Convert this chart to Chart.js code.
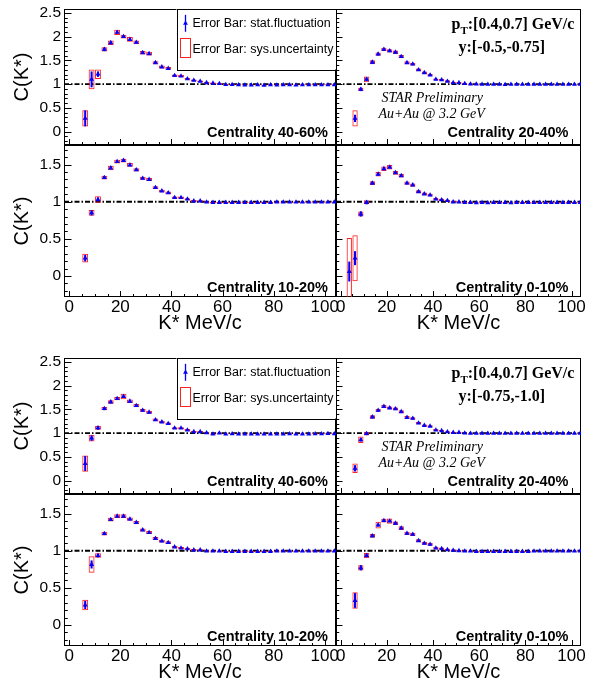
<!DOCTYPE html>
<html><head><meta charset="utf-8">
<script src="https://cdn.jsdelivr.net/npm/chart.js@4.4.0/dist/chart.umd.min.js"></script>
<style>
html,body{margin:0;padding:0;background:#fff;overflow:hidden;width:593px;height:683px;position:relative;}
canvas{position:absolute;}
</style></head><body>
<script>
// ---------- data ----------
const kstar = [6.25,8.75,11.25,13.75,16.25,18.75,21.25,23.75,26.25,28.75,31.25,33.75,36.25,38.75,41.25,43.75,46.25,48.75,51.25,53.75,56.25,58.75,61.25,63.75,66.25,68.75,71.25,73.75,76.25,78.75,81.25,83.75,86.25,88.75,91.25,93.75,96.25,98.75,101.25,103.75];
const kstarC = [3.75,6.25,8.75,11.25,13.75,16.25,18.75,21.25,23.75,26.25,28.75,31.25,33.75,36.25,38.75,41.25,43.75,46.25,48.75,51.25,53.75,56.25,58.75,61.25,63.75,66.25,68.75,71.25,73.75,76.25,78.75,81.25,83.75,86.25,88.75,91.25,93.75,96.25,98.75,101.25,103.75];

const xTicks = [0,20,40,60,80,100];
const yTicksTop = [0,0.5,1,1.5,2,2.5];
const yTicksBot = [0,0.5,1,1.5];
const refLevel = 1;

// y:[-0.5,-0.75]
const c1_4060 = [0.28,1.10,1.21,1.73,1.87,2.09,2.00,1.94,1.88,1.66,1.64,1.45,1.36,1.33,1.18,1.17,1.11,1.08,1.06,1.03,1.02,1.01,0.99,0.99,0.985,0.98,0.98,0.985,0.975,0.985,0.98,0.985,0.985,0.98,0.985,0.985,0.985,0.985,0.985,0.985];
const s1_4060 = [0.16,0.16,0.05,0.03,0.025,0.025,0.02,0.02,0.02,0.02,0.02,0.015,0.015,0.015,0.012,0.012,0.01,0.01,0.01,0.01,0.01,0.008,0.008,0.008,0.008,0.008,0.008,0.008,0.008,0.008,0.008,0.008,0.008,0.008,0.008,0.008,0.008,0.008,0.008,0.008];
const e1_4060 = [0.17,0.21,0.10,0.045,0.045,0.055,0.04,0.05,0.04,0.035,0.04,0.03,0.03,0.03,0.025,0.025,0.02,0.02,0.015,0.015,0.015,0.012,0.012,0.01,0.01,0.01,0.01,0.01,0.01,0.01,0.01,0.01,0.01,0.01,0.01,0.01,0.01,0.01,0.01,0.01];

const c1_2040 = [0.28,0.89,1.10,1.46,1.63,1.73,1.70,1.67,1.58,1.45,1.42,1.30,1.24,1.19,1.10,1.09,1.06,1.03,1.03,1.01,1.0,1.0,0.995,0.995,0.995,0.995,0.99,0.995,0.995,0.995,0.995,0.995,0.995,0.995,0.995,0.995,0.995,0.995,0.995,0.995];
const s1_2040 = [0.07,0.03,0.03,0.025,0.02,0.02,0.02,0.02,0.02,0.015,0.015,0.015,0.012,0.012,0.01,0.01,0.01,0.01,0.008,0.008,0.008,0.008,0.008,0.008,0.008,0.008,0.008,0.008,0.008,0.008,0.008,0.008,0.008,0.008,0.008,0.008,0.008,0.008,0.008,0.008];
const e1_2040 = [0.17,0.035,0.06,0.04,0.035,0.035,0.035,0.035,0.035,0.03,0.03,0.03,0.025,0.025,0.02,0.02,0.02,0.015,0.015,0.015,0.012,0.012,0.01,0.01,0.01,0.01,0.01,0.01,0.01,0.01,0.01,0.01,0.01,0.01,0.01,0.01,0.01,0.01,0.01,0.01];

const c1_1020 = [0.24,0.85,1.03,1.325,1.455,1.54,1.555,1.495,1.43,1.315,1.30,1.19,1.145,1.12,1.055,1.055,1.035,1.01,1.01,0.995,0.99,0.99,0.99,0.99,0.99,0.99,0.99,0.99,0.99,0.99,0.995,0.995,0.995,0.995,0.995,0.995,0.995,0.995,0.995,0.995];
const s1_1020 = [0.04,0.03,0.02,0.015,0.015,0.012,0.012,0.012,0.012,0.01,0.01,0.01,0.01,0.008,0.008,0.008,0.008,0.008,0.008,0.008,0.008,0.008,0.008,0.008,0.008,0.008,0.008,0.008,0.008,0.008,0.008,0.008,0.008,0.008,0.008,0.008,0.008,0.008,0.008,0.008];
const e1_1020 = [0.06,0.04,0.045,0.025,0.03,0.025,0.025,0.025,0.022,0.02,0.02,0.02,0.018,0.018,0.015,0.015,0.012,0.012,0.01,0.01,0.008,0.008,0.008,0.008,0.008,0.008,0.008,0.008,0.008,0.008,0.008,0.008,0.008,0.008,0.008,0.008,0.008,0.008,0.008,0.008];

const c1_010 = [0.06,0.24,0.835,0.99,1.25,1.37,1.445,1.465,1.39,1.35,1.25,1.225,1.135,1.105,1.09,1.035,1.025,1.015,0.997,0.997,0.99,0.99,0.985,0.99,0.985,0.99,0.99,0.99,0.985,0.99,0.99,0.99,0.99,0.99,0.99,0.99,0.99,0.99,0.99,0.99,0.99];
const s1_010 = [0.13,0.09,0.03,0.02,0.015,0.015,0.015,0.012,0.012,0.012,0.01,0.01,0.01,0.01,0.008,0.008,0.008,0.008,0.008,0.008,0.008,0.008,0.008,0.008,0.008,0.008,0.008,0.008,0.008,0.008,0.008,0.008,0.008,0.008,0.008,0.008,0.008,0.008,0.008,0.008,0.008];
const e1_010 = [0.45,0.31,0.035,0.025,0.025,0.03,0.03,0.03,0.025,0.025,0.022,0.022,0.02,0.018,0.018,0.015,0.015,0.012,0.012,0.01,0.008,0.008,0.008,0.008,0.008,0.008,0.008,0.008,0.008,0.008,0.008,0.008,0.008,0.008,0.008,0.008,0.008,0.008,0.008,0.008,0.008];

// y:[-0.75,-1.0]
const c2_4060 = [0.36,0.895,1.11,1.515,1.655,1.725,1.77,1.67,1.58,1.48,1.44,1.28,1.235,1.20,1.105,1.105,1.065,1.03,1.03,1.005,0.98,1.0,0.98,0.985,0.98,0.98,0.98,0.98,0.98,0.98,0.98,0.98,0.985,0.98,0.98,0.98,0.985,0.985,0.99,0.985];
const s2_4060 = [0.15,0.05,0.03,0.025,0.02,0.02,0.02,0.02,0.02,0.018,0.018,0.015,0.015,0.012,0.012,0.01,0.01,0.01,0.01,0.008,0.008,0.008,0.008,0.008,0.008,0.008,0.008,0.008,0.008,0.008,0.008,0.008,0.008,0.008,0.008,0.008,0.008,0.008,0.008,0.008];
const e2_4060 = [0.17,0.07,0.04,0.035,0.035,0.035,0.06,0.035,0.035,0.03,0.03,0.03,0.025,0.025,0.02,0.02,0.02,0.015,0.015,0.015,0.012,0.012,0.01,0.01,0.01,0.01,0.01,0.01,0.01,0.01,0.01,0.01,0.01,0.01,0.01,0.01,0.01,0.01,0.01,0.01];

const c2_2040 = [0.26,0.86,0.99,1.34,1.48,1.56,1.53,1.51,1.45,1.33,1.31,1.21,1.16,1.145,1.065,1.05,1.027,1.013,1.013,1.0,0.995,0.995,0.995,0.995,0.995,0.995,0.995,0.995,0.995,0.995,0.995,0.995,0.995,0.995,0.995,0.995,0.995,0.995,0.995,0.995];
const s2_2040 = [0.06,0.03,0.025,0.02,0.02,0.018,0.018,0.018,0.015,0.015,0.012,0.012,0.01,0.01,0.01,0.008,0.008,0.008,0.008,0.008,0.008,0.008,0.008,0.008,0.008,0.008,0.008,0.008,0.008,0.008,0.008,0.008,0.008,0.008,0.008,0.008,0.008,0.008,0.008,0.008];
const e2_2040 = [0.10,0.07,0.04,0.035,0.03,0.03,0.03,0.03,0.03,0.03,0.025,0.025,0.02,0.02,0.02,0.015,0.015,0.012,0.012,0.01,0.01,0.01,0.01,0.01,0.01,0.01,0.01,0.01,0.01,0.01,0.01,0.01,0.01,0.01,0.01,0.01,0.01,0.01,0.01,0.01];

const c2_1020 = [0.27,0.815,0.935,1.23,1.42,1.465,1.465,1.425,1.38,1.28,1.245,1.165,1.13,1.11,1.05,1.035,1.025,1.01,1.01,0.995,0.995,0.995,0.99,0.99,0.99,0.99,0.99,0.99,0.99,0.99,0.995,0.995,0.995,0.995,0.995,0.995,0.995,0.995,0.995,0.995];
const s2_1020 = [0.05,0.05,0.02,0.015,0.015,0.012,0.012,0.012,0.012,0.01,0.01,0.01,0.01,0.008,0.008,0.008,0.008,0.008,0.008,0.008,0.008,0.008,0.008,0.008,0.008,0.008,0.008,0.008,0.008,0.008,0.008,0.008,0.008,0.008,0.008,0.008,0.008,0.008,0.008,0.008];
const e2_1020 = [0.07,0.11,0.03,0.025,0.025,0.025,0.025,0.022,0.022,0.02,0.02,0.02,0.018,0.018,0.015,0.015,0.012,0.012,0.01,0.01,0.008,0.008,0.008,0.008,0.008,0.008,0.008,0.008,0.008,0.008,0.008,0.008,0.008,0.008,0.008,0.008,0.008,0.008,0.008,0.008];

const c2_010 = [0.33,0.77,0.935,1.20,1.345,1.405,1.40,1.37,1.305,1.235,1.22,1.135,1.10,1.085,1.035,1.027,1.013,1.005,1.0,0.995,0.995,0.99,0.99,0.99,0.99,0.99,0.99,0.99,0.99,0.99,0.99,0.995,0.995,0.995,0.995,0.995,0.995,0.995,0.995,0.995];
const s2_010 = [0.095,0.03,0.02,0.015,0.015,0.015,0.012,0.012,0.012,0.012,0.01,0.01,0.01,0.008,0.008,0.008,0.008,0.008,0.008,0.008,0.008,0.008,0.008,0.008,0.008,0.008,0.008,0.008,0.008,0.008,0.008,0.008,0.008,0.008,0.008,0.008,0.008,0.008,0.008,0.008];
const e2_010 = [0.11,0.035,0.035,0.025,0.045,0.025,0.035,0.025,0.025,0.022,0.022,0.02,0.02,0.018,0.018,0.015,0.015,0.012,0.012,0.01,0.008,0.008,0.008,0.008,0.008,0.008,0.008,0.008,0.008,0.008,0.008,0.008,0.008,0.008,0.008,0.008,0.008,0.008,0.008,0.008];

const rapidityLabels = ['y:[-0.5,-0.75]', 'y:[-0.75,-1.0]'];

// ---------- layout ----------
const FIGS = [0, 349];
const COLS = [{l:64, r:336, xr:[-2.05,104.4]}, {l:336, r:581, xr:[-2.0,104.1]}];
const ROWS = [{t:9, b:145, yr:[-0.28,2.58], yt:yTicksTop}, {t:145, b:297, yr:[-0.283,1.764], yt:yTicksBot}];

const panels = [
  {f:0,row:0,col:0,x:kstar, y:c1_4060,st:s1_4060,sy:e1_4060,label:'Centrality 40-60%',legend:true},
  {f:0,row:0,col:1,x:kstar, y:c1_2040,st:s1_2040,sy:e1_2040,label:'Centrality 20-40%',info:true},
  {f:0,row:1,col:0,x:kstar, y:c1_1020,st:s1_1020,sy:e1_1020,label:'Centrality 10-20%'},
  {f:0,row:1,col:1,x:kstarC,y:c1_010, st:s1_010, sy:e1_010, label:'Centrality 0-10%'},
  {f:1,row:0,col:0,x:kstar, y:c2_4060,st:s2_4060,sy:e2_4060,label:'Centrality 40-60%',legend:true},
  {f:1,row:0,col:1,x:kstar, y:c2_2040,st:s2_2040,sy:e2_2040,label:'Centrality 20-40%',info:true},
  {f:1,row:1,col:0,x:kstar, y:c2_1020,st:s2_1020,sy:e2_1020,label:'Centrality 10-20%'},
  {f:1,row:1,col:1,x:kstar, y:c2_010, st:s2_010, sy:e2_010, label:'Centrality 0-10%'}
];

const BLUE = '#0000ff', RED = '#ff2020';
const SANS = '"Liberation Sans", Arial, sans-serif';
const SERIF = '"Liberation Serif", "Times New Roman", serif';

function triangle(ctx, x, y, r){
  ctx.beginPath();
  ctx.moveTo(x, y - r);
  ctx.lineTo(x + r*0.866, y + r*0.5);
  ctx.lineTo(x - r*0.866, y + r*0.5);
  ctx.closePath();
  ctx.fill();
}

const decor = {
  id: 'decor',
  beforeDatasetsDraw(chart){
    const o = chart.options.plugins.decor;
    const {ctx, chartArea:a, scales:{x, y}} = chart;
    ctx.save();
    ctx.strokeStyle = '#000';
    ctx.lineWidth = 1;
    ctx.strokeRect(a.left + 0.5, a.top + 0.5, a.right - a.left - 1, a.bottom - a.top - 1);
    ctx.beginPath();
    const majY = o.col === 0 ? 7.5 : 6.5;
    for (let k = Math.ceil(y.min * 10); k <= Math.floor(y.max * 10); k++) {
      const py = Math.round(y.getPixelForValue(k / 10)) + 0.5;
      const len = (k % 5 === 0) ? majY : majY / 2;
      ctx.moveTo(a.left, py); ctx.lineTo(a.left + len, py);
    }
    for (let k = Math.ceil(x.min / 5); k <= Math.floor(x.max / 5); k++) {
      const px = Math.round(x.getPixelForValue(k * 5)) + 0.5;
      const len = (k % 4 === 0) ? 6 : 3;
      ctx.moveTo(px, a.bottom); ctx.lineTo(px, a.bottom - len);
    }
    ctx.stroke();
    ctx.restore();
  },
  afterDraw(chart){
    const o = chart.options.plugins.decor;
    const {ctx, chartArea:a} = chart;
    ctx.save();
    ctx.fillStyle = '#000';
    ctx.textAlign = 'right';
    ctx.textBaseline = 'alphabetic';
    ctx.font = 'bold 14.5px ' + SANS;
    ctx.fillText(o.label, a.right - (o.col === 0 ? 8 : 12.5), a.bottom - (o.row === 0 ? 8.3 : 5.3));
    if (o.legend) {
      const bx0 = a.right - 159.5, by0 = a.top, bx1 = a.right, by1 = a.top + 60.5;
      ctx.fillStyle = '#fff';
      ctx.fillRect(bx0, by0, bx1 - bx0, by1 - by0);
      ctx.strokeStyle = '#000'; ctx.lineWidth = 1;
      ctx.strokeRect(Math.round(bx0) + 0.5, by0 + 0.5, Math.round(bx1 - bx0) - 1, Math.round(by1 - by0));
      const mx = bx0 + 9, my = a.top + 14.3;
      ctx.strokeStyle = BLUE; ctx.lineWidth = 1.3;
      ctx.beginPath(); ctx.moveTo(mx, my - 8.5); ctx.lineTo(mx, my + 8.5); ctx.stroke();
      ctx.fillStyle = BLUE; triangle(ctx, mx, my, 2.8);
      ctx.strokeStyle = RED; ctx.lineWidth = 1;
      ctx.strokeRect(Math.round(bx0 + 3) + 0.5, a.top + 29.5, 10, 19);
      ctx.fillStyle = '#000';
      ctx.textAlign = 'left'; ctx.textBaseline = 'middle';
      ctx.font = '12.5px ' + SANS;
      ctx.fillText('Error Bar: stat.fluctuation', bx0 + 16, my);
      ctx.fillText('Error Bar: sys.uncertainty', bx0 + 16, a.top + 40.3);
    }
    if (o.info) {
      ctx.fillStyle = '#000';
      ctx.textAlign = 'left'; ctx.textBaseline = 'alphabetic';
      let tx = a.left + 115.5;
      const tb = a.top + 19.5;
      ctx.font = 'bold 16px ' + SERIF;
      ctx.fillText('p', tx, tb); tx += ctx.measureText('p').width;
      ctx.font = 'bold 11px ' + SERIF;
      ctx.fillText('T', tx, tb + 5); tx += ctx.measureText('T').width;
      ctx.font = 'bold 16px ' + SERIF;
      ctx.fillText(':[0.4,0.7] GeV/c', tx, tb);
      ctx.fillText(o.rapidity, a.left + 122.5, a.top + 42.7);
      ctx.font = 'italic 14px ' + SERIF;
      ctx.fillText('STAR Preliminary', a.left + 45.5, a.top + 93);
      ctx.fillText('Au+Au @ 3.2 GeV', a.left + 42.5, a.top + 109.3);
    }
    ctx.restore();
  }
};

function noPad(s){ s.paddingTop = 0; s.paddingBottom = 0; s.paddingLeft = 0; s.paddingRight = 0; }

function makePanel(def){
  const F = FIGS[def.f], C = COLS[def.col], R = ROWS[def.row];
  const frame = {l:C.l, r:C.r, t:R.t + F, b:R.b + F};
  const showY = def.col === 0, showX = def.row === 1;
  const cx = def.col === 0 ? 0 : 326;
  const cw = def.col === 0 ? 352 : 267;
  const cy = Math.floor(frame.t - (def.row === 0 ? 9 : 4));
  const cb = Math.ceil(frame.b + (showX ? 40 : 4));
  const ch = cb - cy;
  const yAxisW = showY ? frame.l - cx : 0;
  const xAxisH = showX ? 38 : 0;
  const pad = {left: frame.l - cx - yAxisW, right: cx + cw - frame.r, top: frame.t - cy, bottom: cy + ch - frame.b - xAxisH};

  const canvas = document.createElement('canvas');
  canvas.width = cw; canvas.height = ch;
  canvas.style.left = cx + 'px'; canvas.style.top = cy + 'px';
  canvas.style.width = cw + 'px'; canvas.style.height = ch + 'px';
  document.body.appendChild(canvas);

  const pts = def.x.map((x, i) => ({x, y: def.y[i]}));
  const statBars = def.x.map((x, i) => ({x, y: [def.y[i] - def.st[i], def.y[i] + def.st[i]]}));
  const sysBoxes = def.x.map((x, i) => ({x, y: [def.y[i] - def.sy[i], def.y[i] + def.sy[i]]}));

  new Chart(canvas, {
    type: 'scatter',
    data: {
      datasets: [
        {type:'scatter', data: pts, pointStyle:'triangle', pointRadius:2.9, pointBorderWidth:0,
         backgroundColor: BLUE, borderColor: BLUE, order:0, clip:0},
        {type:'bar', data: statBars, backgroundColor: BLUE, borderWidth:0, barThickness:1.4,
         grouped:false, order:1, clip:0},
        {type:'bar', data: sysBoxes, backgroundColor:'rgba(0,0,0,0)', borderColor: RED, borderWidth:1,
         borderSkipped:false, categoryPercentage:1, barPercentage:0.92, grouped:false, order:2, clip:0},
        {type:'line', data: [{x:C.xr[0], y:refLevel}, {x:C.xr[1], y:refLevel}], borderColor:'#000',
         borderWidth:1.8, borderDash:[5,2,1.5,2], pointRadius:0, order:3, clip:0}
      ]
    },
    options: {
      responsive:false, animation:false, devicePixelRatio:1, events:[],
      layout: {padding: pad},
      plugins: {
        legend:{display:false}, tooltip:{enabled:false},
        decor: {label:def.label, legend:!!def.legend, info:!!def.info, rapidity:rapidityLabels[def.f], col:def.col, row:def.row}
      },
      scales: {
        x: {
          type:'linear', min:C.xr[0], max:C.xr[1], offset:false, display:showX,
          grid:{display:false, drawTicks:false}, border:{display:false},
          ticks:{autoSkip:false, maxRotation:0, padding:0, color:'#000', font:{family:SANS, size:17},
                 callback: v => String(v)},
          afterBuildTicks: s => { s.ticks = xTicks.map(v => ({value:v})); },
          afterFit: s => { s.height = xAxisH; noPad(s); },
          title:{display:true, text:'K* MeV/c', color:'#000', font:{family:SANS, size:20}, padding:{top:0, bottom:0}}
        },
        y: {
          type:'linear', min:R.yr[0], max:R.yr[1], display:showY,
          grid:{display:false, drawTicks:false}, border:{display:false},
          ticks:{autoSkip:false, padding:3, color:'#000', font:{family:SANS, size:15.5},
                 callback: v => String(v)},
          afterBuildTicks: s => { s.ticks = R.yt.map(v => ({value:v})); },
          afterFit: s => { s.width = yAxisW; noPad(s); },
          title:{display:true, text:'C(K*)', color:'#000', font:{family:SANS, size:20}, padding:{top:10, bottom:0}}
        }
      }
    },
    plugins: [decor]
  });
}

panels.forEach(makePanel);
</script>
</body></html>
